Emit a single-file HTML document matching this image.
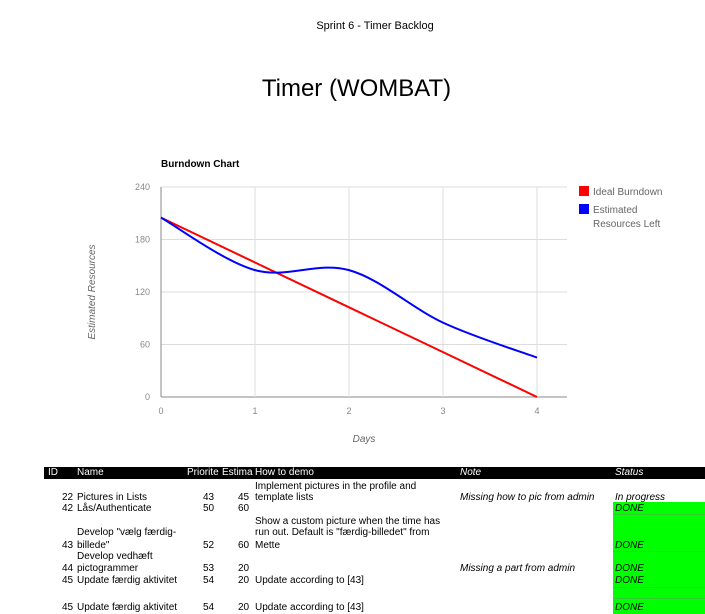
<!DOCTYPE html>
<html><head><meta charset="utf-8"><style>
body{margin:0;width:705px;height:614px;background:#fff;position:relative;overflow:hidden;font-family:"Liberation Sans",Arial,sans-serif;color:#000}
.a{position:absolute;white-space:nowrap}
.t{font-size:10px;line-height:11.5px}
.hdr{position:absolute;left:44px;top:467px;width:661px;height:12px;background:#000}
.hdr span{position:absolute;color:#fff;font-size:10px;top:0;line-height:12px}
.i{font-style:italic}
.g{position:absolute;left:613px;width:92px;background:#00ff00}
</style></head><body>
<div class="a" style="left:0;width:750px;text-align:center;top:20px;font-size:11px">Sprint 6 - Timer Backlog</div>
<div class="a" style="left:0;width:713px;text-align:center;top:75px;font-size:24px">Timer (WOMBAT)</div>

<svg id="chart" width="705" height="460" style="position:absolute;left:0;top:0" font-family="Liberation Sans, Arial, sans-serif"></svg>

<div class="hdr">
<span style="left:4px">ID</span><span style="left:33px">Name</span><span style="left:143px">Priorite</span><span style="left:178px">Estima</span><span style="left:211px">How to demo</span><span class="i" style="left:416px">Note</span><span class="i" style="left:571px">Status</span>
</div>
<div class="g" style="top:502px;height:112px"></div>
<div id="rows"></div>

<script>
const days=[0,1,2,3,4];
const ideal=[205,153.75,102.5,51.25,0];
const estimated=[205,145,145,85,45];
const yTicks=[0,60,120,180,240];
const xTicks=['0','1','2','3','4'];
const legendLabels=['Ideal Burndown','Estimated','Resources Left'];

const NS='http://www.w3.org/2000/svg';
const svg=document.getElementById('chart');
const X0=161,X1=537,Y0=397,Y1=187;
const xs=v=>X0+(X1-X0)*v/4;
const ys=v=>Y0-(Y0-Y1)*v/240;
function mk(tag,attrs,txt){const e=document.createElementNS(NS,tag);for(const k in attrs)e.setAttribute(k,attrs[k]);if(txt!=null)e.textContent=txt;svg.appendChild(e);return e;}

let e=mk('text',{x:161,y:167,'font-size':10,'font-weight':'bold'},'Burndown Chart');


yTicks.forEach(v=>{
 const l=mk('line',{x1:X0,x2:567,y1:ys(v),y2:ys(v),stroke:v===0?'#888':'#ddd','stroke-width':1});
 
 
 const t=mk('text',{x:150,y:ys(v)+3,'font-size':9,fill:'#888','text-anchor':'end'},v);
 
 
});
days.forEach((d,i)=>{
 if(i>0){const l=mk('line',{x1:xs(d),x2:xs(d),y1:Y1,y2:Y0,stroke:'#ddd','stroke-width':1});
 
 }
 const t=mk('text',{x:xs(d),y:414,'font-size':9,fill:'#888','text-anchor':'middle'},xTicks[i]);
 
 
});
let ax=mk('line',{x1:X0,x2:X0,y1:Y1,y2:Y0,stroke:'#888'});


e=mk('text',{x:364,y:442,'font-size':10,fill:'#666','font-style':'italic','text-anchor':'middle'},'Days');


e=mk('text',{x:0,y:0,'font-size':10,fill:'#666','font-style':'italic','text-anchor':'middle',transform:'translate(95,292) rotate(-90)'},'Estimated Resources');



let d='M'+days.map((v,i)=>xs(v)+','+ys(ideal[i])).join(' L');
e=mk('path',{d:d,fill:'none',stroke:'#ff0000','stroke-width':2});


const P=days.map((v,i)=>[xs(v),ys(estimated[i])]);
let s='M'+P[0][0]+','+P[0][1];
for(let i=0;i<P.length-1;i++){
 const p0=P[Math.max(0,i-1)],p1=P[i],p2=P[i+1],p3=P[Math.min(P.length-1,i+2)];
 const c1=[p1[0]+(p2[0]-p0[0])/6,p1[1]+(p2[1]-p0[1])/6];
 const c2=[p2[0]-(p3[0]-p1[0])/6,p2[1]-(p3[1]-p1[1])/6];
 s+=' C'+c1+' '+c2+' '+p2;
}
e=mk('path',{d:s,fill:'none',stroke:'#0000ff','stroke-width':2});



e=mk('rect',{x:579,y:186,width:10,height:10,fill:'#ff0000'});


e=mk('text',{x:593,y:195,'font-size':10,fill:'#666'},legendLabels[0]);


e=mk('rect',{x:579,y:204,width:10,height:10,fill:'#0000ff'});


e=mk('text',{x:593,y:213,'font-size':10,fill:'#666'},legendLabels[1]);


e=mk('text',{x:593,y:227,'font-size':10,fill:'#666'},legendLabels[2]);



const lines=[
[481,255,'Implement pictures in the profile and'],
[492,62,'22'],[492,77,'Pictures in Lists'],[492,203,'43'],[492,238,'45'],[492,255,'template lists'],[492,460,'Missing how to pic from admin',1],[492,615,'In progress',1],
[503,62,'42'],[503,77,'Lås/Authenticate'],[503,203,'50'],[503,238,'60'],[503,615,'DONE',1],
[516,255,'Show a custom picture when the time has'],
[527,77,'Develop "vælg færdig-'],[527,255,'run out. Default is "færdig-billedet" from'],
[540,62,'43'],[540,77,'billede"'],[540,203,'52'],[540,238,'60'],[540,255,'Mette'],[540,615,'DONE',1],
[551,77,'Develop vedhæft'],
[563,62,'44'],[563,77,'pictogrammer'],[563,203,'53'],[563,238,'20'],[563,460,'Missing a part from admin',1],[563,615,'DONE',1],
[575,62,'45'],[575,77,'Update færdig aktivitet'],[575,203,'54'],[575,238,'20'],[575,255,'Update according to [43]'],[575,615,'DONE',1],
[602,62,'45'],[602,77,'Update færdig aktivitet'],[602,203,'54'],[602,238,'20'],[602,255,'Update according to [43]'],[602,615,'DONE',1]
];
const rows=document.getElementById('rows');
lines.forEach(l=>{
 const el=document.createElement('div');
 el.className='a t'+(l[3]?' i':'');
 el.style.top=l[0]+'px';el.style.left=l[1]+'px';
 el.textContent=l[2];
 
 
 rows.appendChild(el);
});
[514,551,587,598].forEach(y=>{
 const el=document.createElement('div');
 el.style.cssText='position:absolute;left:613px;width:92px;height:1px;background:#33cc33;top:'+y+'px';
 
 
 rows.appendChild(el);
});
</script>
</body></html>
